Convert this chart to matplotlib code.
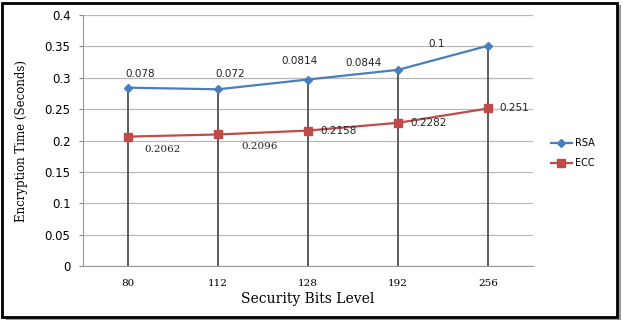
import matplotlib.pyplot as plt
import matplotlib
import numpy as np
from matplotlib.patches import Rectangle

matplotlib.rc('font', size=7.5)

levels = ['80', '112', '128', '192', '256']
rsa = [0.078, 0.072, 0.0814, 0.0844, 0.1]
ecc = [0.2062, 0.2096, 0.2158, 0.2282, 0.251]

# label offsets in points (tuned by eye)
rsa_off = [(9, 10), (9, 11), (-6, 13), (-25, 5), (-37, 1)]
ecc_off = [(25, -9), (30, -9), (22, 0), (22, 0), (19, 0)]
ecc_fam = ['serif', 'serif', 'sans-serif', 'sans-serif', 'sans-serif']

fig = plt.figure(figsize=(6.23, 3.24), dpi=100)
ax = fig.add_axes([0.1332, 0.179, 0.7223, 0.7747])

x = np.arange(len(levels))
ecc = np.array(ecc)
rsa_top = ecc + np.array(rsa)  # stacked line chart

for i in range(len(levels)):
    ax.plot([x[i], x[i]], [0, rsa_top[i]], color='#4f4f4f', lw=1.3, zorder=2)

ax.plot(x, rsa_top, color='#4a7ebb', lw=1.6, marker='D', ms=4,
        label='RSA', zorder=3)
ax.plot(x, ecc, color='#be4b48', lw=1.6, marker='s', ms=6,
        label='ECC', zorder=3)

for i in range(len(levels)):
    ax.annotate(str(rsa[i]), (x[i], rsa_top[i]), xytext=rsa_off[i],
                textcoords='offset points', ha='center', va='center',
                fontsize=7.5, color='#222222')
    ax.annotate(str(ecc[i]), (x[i], ecc[i]), xytext=ecc_off[i],
                textcoords='offset points', ha='center', va='center',
                fontsize=7.5, color='#222222', family=ecc_fam[i])

ax.set_xlim(-0.5, len(levels) - 0.5)
ax.set_ylim(0, 0.4)
ax.set_yticks(np.arange(0, 0.401, 0.05))
ax.set_yticklabels(['0', '0.05', '0.1', '0.15', '0.2', '0.25', '0.3', '0.35', '0.4'],
                   fontsize=8.5)
ax.set_xticks(x)
ax.set_xticklabels(levels, family='serif', fontsize=7.5)
ax.tick_params(axis='x', length=0, pad=9)
ax.tick_params(axis='y', length=3, color='#888888', pad=6)
ax.yaxis.grid(True, color='#b8b8b8', lw=0.9)
ax.set_axisbelow(True)
ax.patch.set_alpha(0)
for s in ['top', 'right']:
    ax.spines[s].set_visible(False)
ax.spines['left'].set_color('#999999')
ax.spines['bottom'].set_color('#999999')

ax.set_xlabel('Security Bits Level', family='serif', fontsize=10, labelpad=3)
ax.set_ylabel('Encryption Time (Seconds)', family='serif', fontsize=8.5, labelpad=12)

ax.legend(loc='center left', bbox_to_anchor=(1.02, 0.45), frameon=False,
          fontsize=7, handlelength=2.2, handletextpad=0.3, labelspacing=1.0)

# outer border with drop shadow (pixels from bottom-left)
W, H = 623, 324
fig.patches.append(Rectangle((5.5 / W, 4 / H), 615 / W, 315 / H,
                             transform=fig.transFigure, fc='#9a9a9a',
                             ec='none', zorder=-2))
fig.patches.append(Rectangle((2.5 / W, 7 / H), 614 / W, 314.5 / H,
                             transform=fig.transFigure, fc='white',
                             ec='black', lw=2, zorder=-1))

plt.savefig('out.png', dpi=100)
